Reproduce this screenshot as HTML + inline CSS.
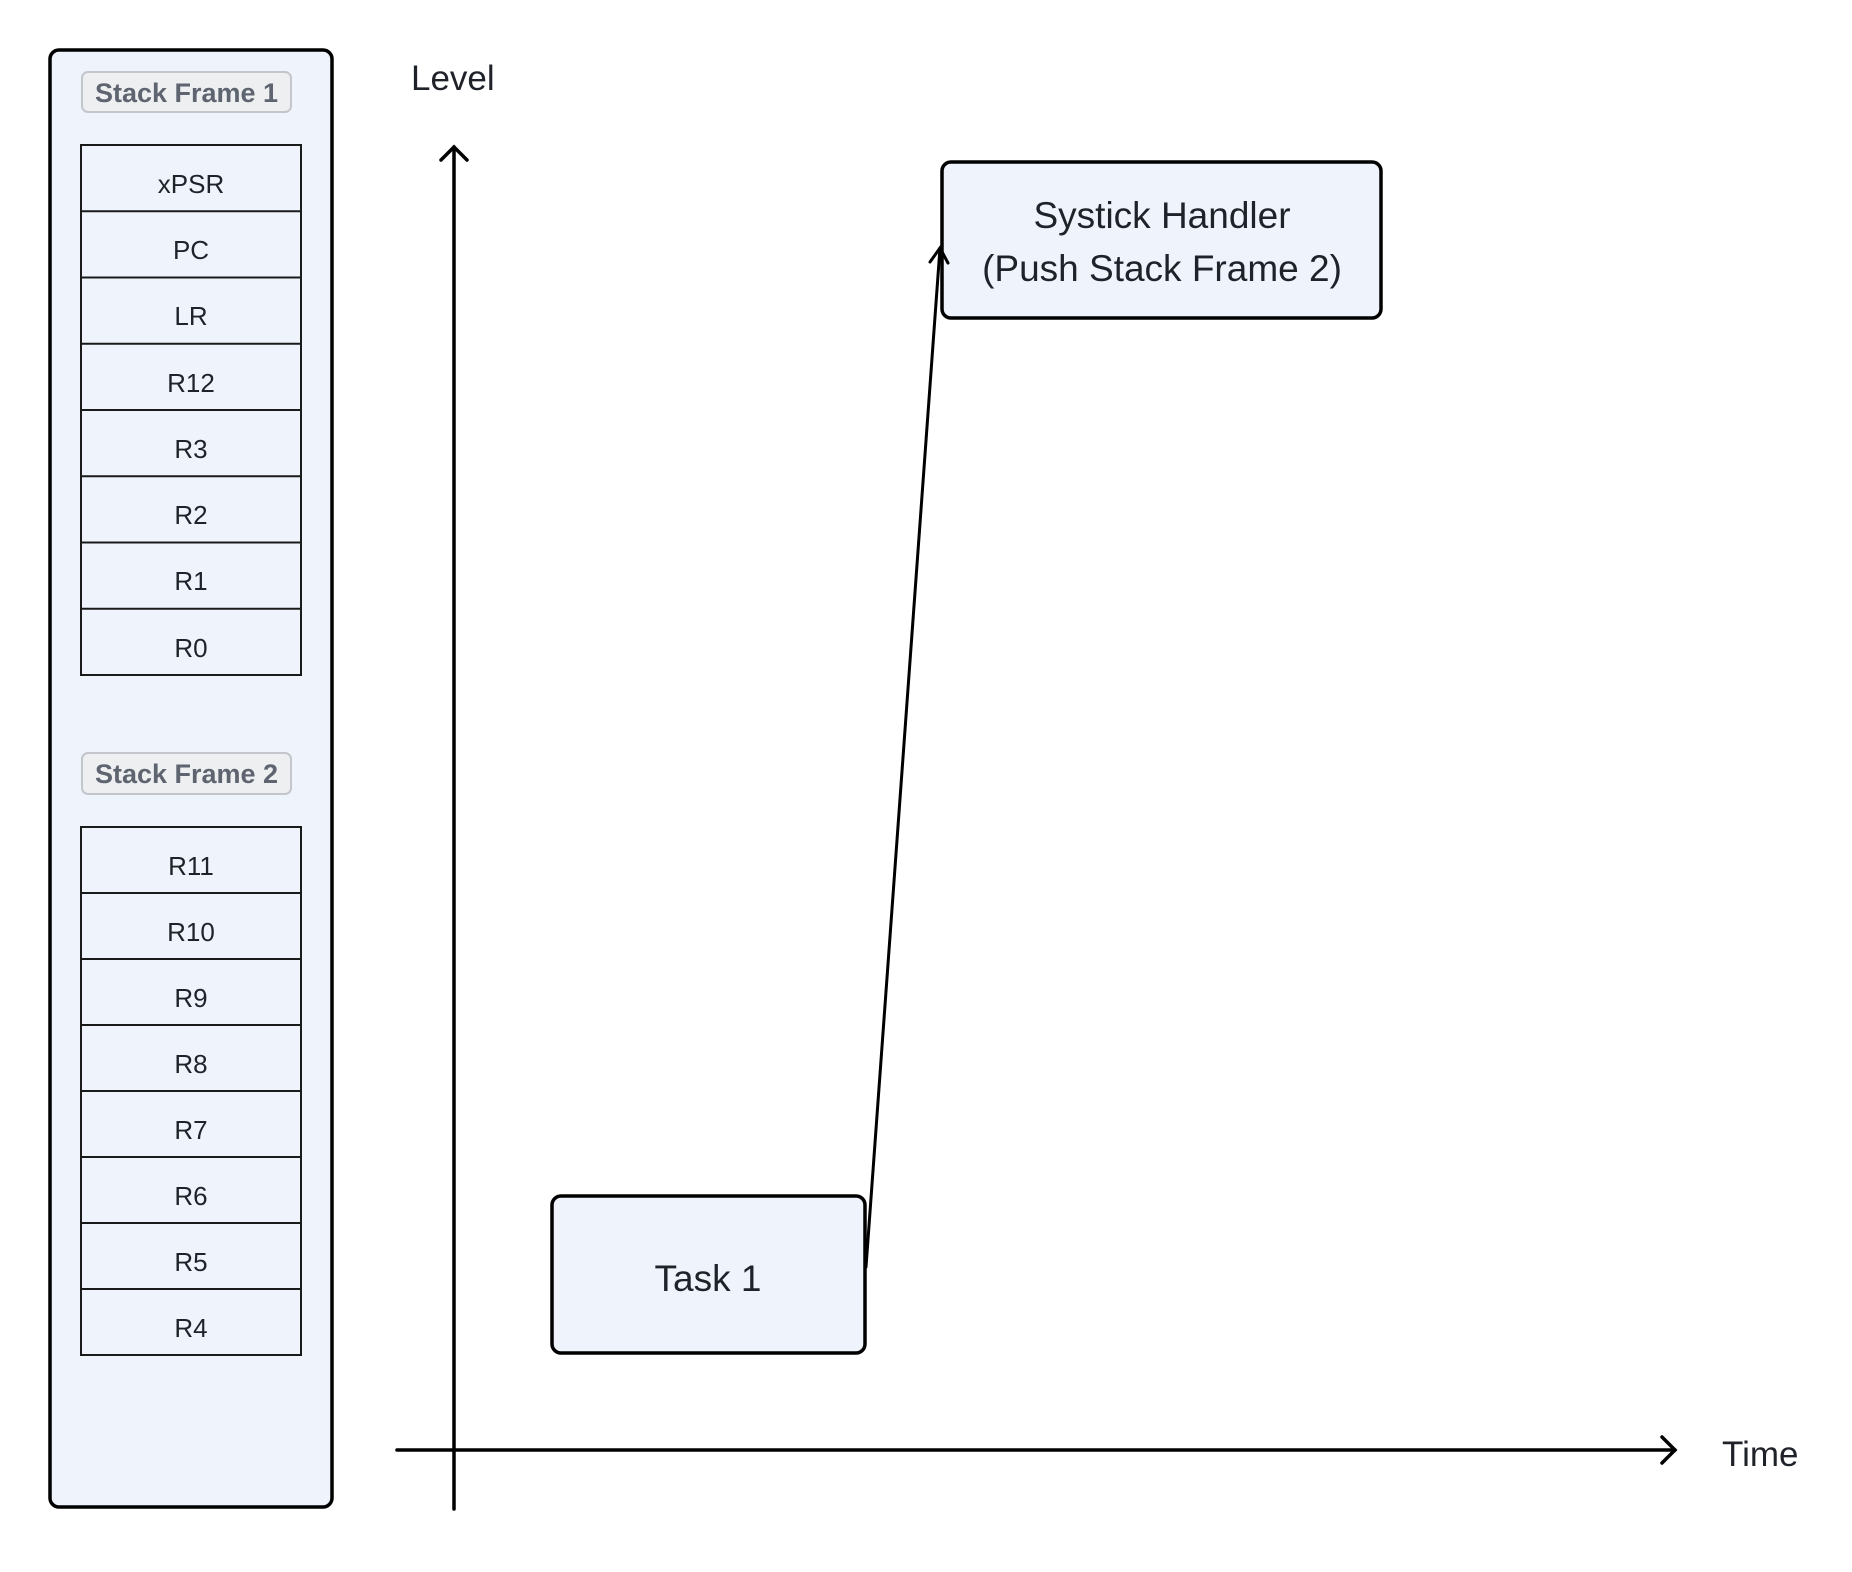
<!DOCTYPE html>
<html><head><meta charset="utf-8"><style>
html,body{margin:0;padding:0;background:#fff;}
svg{display:block;}
text{font-family:"Liberation Sans",sans-serif;}
</style></head><body>
<svg width="1852" height="1572" viewBox="0 0 1852 1572" xmlns="http://www.w3.org/2000/svg">
<rect x="0" y="0" width="1852" height="1572" fill="#fff"/>
<rect x="50" y="50" width="282" height="1457" rx="9" fill="#eff4fc" stroke="#000" stroke-width="3.5"/>
<rect x="82" y="72" width="209" height="40" rx="6" fill="#eeeff1" stroke="#c3c6cb" stroke-width="2"/>
<text x="186.5" y="102" font-size="27" font-weight="bold" fill="#5f6570" text-anchor="middle">Stack Frame 1</text>
<rect x="82" y="753" width="209" height="41" rx="6" fill="#eeeff1" stroke="#c3c6cb" stroke-width="2"/>
<text x="186.5" y="783" font-size="27" font-weight="bold" fill="#5f6570" text-anchor="middle">Stack Frame 2</text>
<g stroke="#1a1a1a" stroke-width="2" fill="#eff4fc">
<rect x="81" y="145" width="220" height="530"/>
<line x1="81" y1="211.2" x2="301" y2="211.2"/><line x1="81" y1="277.5" x2="301" y2="277.5"/>
<line x1="81" y1="343.7" x2="301" y2="343.7"/><line x1="81" y1="410" x2="301" y2="410"/>
<line x1="81" y1="476.2" x2="301" y2="476.2"/><line x1="81" y1="542.5" x2="301" y2="542.5"/>
<line x1="81" y1="608.7" x2="301" y2="608.7"/>
<rect x="81" y="827" width="220" height="528"/>
<line x1="81" y1="893" x2="301" y2="893"/><line x1="81" y1="959" x2="301" y2="959"/>
<line x1="81" y1="1025" x2="301" y2="1025"/><line x1="81" y1="1091" x2="301" y2="1091"/>
<line x1="81" y1="1157" x2="301" y2="1157"/><line x1="81" y1="1223" x2="301" y2="1223"/>
<line x1="81" y1="1289" x2="301" y2="1289"/>
</g>
<g font-size="26" fill="#1f2329" text-anchor="middle">
<text x="191" y="193">xPSR</text><text x="191" y="259">PC</text><text x="191" y="325">LR</text>
<text x="191" y="392">R12</text><text x="191" y="458">R3</text><text x="191" y="524">R2</text>
<text x="191" y="590">R1</text><text x="191" y="657">R0</text>
<text x="191" y="875">R11</text><text x="191" y="941">R10</text><text x="191" y="1007">R9</text>
<text x="191" y="1073">R8</text><text x="191" y="1139">R7</text><text x="191" y="1205">R6</text>
<text x="191" y="1271">R5</text><text x="191" y="1337">R4</text>
</g>
<text x="411" y="90" font-size="35" fill="#1f2329">Level</text>
<text x="1722" y="1466" font-size="35" fill="#1f2329">Time</text>
<g stroke="#000" stroke-width="3.5" fill="none" stroke-linecap="round">
<line x1="454" y1="147" x2="454" y2="1509"/>
<polyline points="441,160 454,147 467,160"/>
<line x1="397" y1="1450" x2="1675" y2="1450"/>
<polyline points="1662,1437 1675,1450 1662,1463"/>
</g>
<rect x="942" y="162" width="439" height="156" rx="9" fill="#eff4fc" stroke="#000" stroke-width="3.5"/>
<text x="1162" y="228" font-size="37" fill="#1f2329" text-anchor="middle">Systick Handler</text>
<text x="1162" y="281" font-size="37" fill="#1f2329" text-anchor="middle">(Push Stack Frame 2)</text>
<rect x="552" y="1196" width="313" height="157" rx="9" fill="#eff4fc" stroke="#000" stroke-width="3.5"/>
<text x="708" y="1291" font-size="37" fill="#1f2329" text-anchor="middle">Task 1</text>
<g stroke="#000" stroke-width="3" fill="none" stroke-linecap="round">
<line x1="866" y1="1267" x2="940" y2="248"/>
<polyline points="930,262 940,248 948,263"/>
</g>
</svg>
</body></html>
